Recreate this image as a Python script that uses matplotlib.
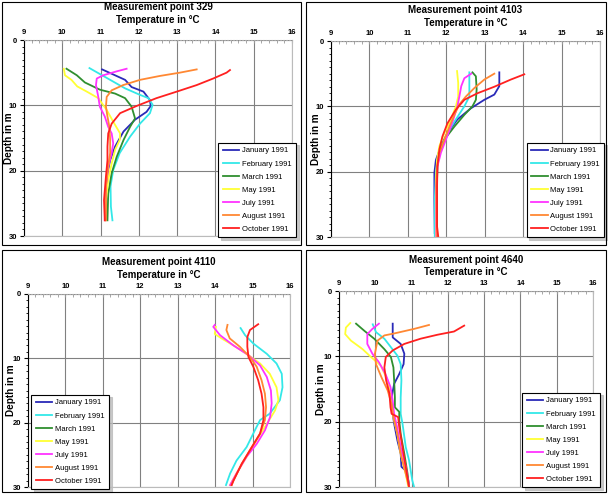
import matplotlib
matplotlib.use("Agg")
import matplotlib.pyplot as plt
from matplotlib.patches import Rectangle

plt.rcParams['font.family'] = ['Liberation Sans', 'DejaVu Sans']

months = ["January 1991", "February 1991", "March 1991", "May 1991",
          "July 1991", "August 1991", "October 1991"]
colors = ["#2a2ab8", "#33e8e8", "#2f8f2f", "#ffff33", "#ff33ff", "#ff8833", "#ff2020"]

# --- Measurement point 329 (temperature °C, depth m) ---
jan_329_t = [11.04, 11.64, 11.81, 12.12, 12.29, 12.31, 12.2, 11.9, 11.6, 11.38, 11.25, 11.18, 11.14, 11.14]
jan_329_d = [4.5, 6.1, 7.2, 7.9, 9.2, 10.1, 11.0, 12.2, 14.0, 16.3, 18.4, 20.4, 23.5, 27.5]
feb_329_t = [10.71, 11.25, 11.64, 12.03, 12.25, 12.36, 12.29, 12.03, 11.77, 11.5, 11.33, 11.26, 11.27, 11.31]
feb_329_d = [4.3, 6.1, 7.4, 8.4, 8.9, 9.9, 11.2, 12.8, 14.8, 17.3, 19.9, 22.4, 25.5, 27.6]
mar_329_t = [10.11, 10.38, 10.59, 10.98, 11.38, 11.64, 11.81, 11.9, 11.77, 11.6, 11.42, 11.29, 11.2, 11.18]
mar_329_d = [4.4, 5.4, 6.5, 7.6, 8.2, 8.9, 10.2, 12.0, 13.3, 15.3, 17.9, 20.4, 23.5, 27.6]
may_329_t = [10.04, 10.07, 10.24, 10.39, 10.64, 10.94, 11.16, 11.33, 11.51, 11.5, 11.38, 11.29, 11.2, 11.14, 11.12]
may_329_d = [4.4, 5.4, 6.1, 7.1, 7.9, 8.9, 10.7, 12.5, 14.3, 15.3, 16.8, 18.9, 21.4, 24.5, 27.6]
jul_329_t = [11.68, 11.42, 11.07, 10.9, 10.88, 10.94, 10.98, 11.11, 11.2, 11.29, 11.33, 11.29, 11.2, 11.14, 11.11]
jul_329_d = [4.4, 4.8, 5.4, 5.9, 6.9, 8.7, 10.2, 11.7, 13.3, 14.3, 15.8, 17.3, 19.4, 22.4, 27.6]
aug_329_t = [13.51, 13.07, 12.55, 12.03, 11.59, 11.29, 11.16, 11.14, 11.18, 11.23, 11.25, 11.25, 11.2, 11.14, 11.14]
aug_329_d = [4.5, 5.0, 5.5, 6.1, 6.9, 7.7, 8.7, 10.2, 11.7, 13.3, 15.3, 17.3, 19.4, 22.4, 27.6]
oct_329_t = [14.38, 14.29, 13.94, 13.51, 12.99, 12.46, 11.94, 11.51, 11.29, 11.2, 11.18, 11.18, 11.14, 11.09, 11.11]
oct_329_d = [4.6, 5.0, 5.9, 6.9, 7.9, 8.9, 10.1, 11.2, 12.8, 14.3, 16.3, 18.4, 20.9, 24.5, 27.6]

# --- Measurement point 4103 ---
jan_4103_t = [13.38, 13.38, 13.25, 12.99, 12.64, 12.29, 12.03, 11.86, 11.73, 11.69, 11.69, 11.69, 11.7]
jan_4103_d = [4.8, 6.9, 8.2, 9.0, 10.3, 12.0, 14.1, 16.1, 18.2, 20.2, 22.2, 24.3, 29.4]
feb_4103_t = [12.6, 12.6, 12.47, 12.25, 12.03, 11.86, 11.77, 11.73, 11.7, 11.7]
feb_4103_d = [4.8, 8.5, 10.0, 12.0, 14.1, 16.1, 18.2, 20.2, 24.3, 29.9]
mar_4103_t = [12.68, 12.77, 12.79, 12.77, 12.68, 12.47, 12.21, 11.95, 11.82, 11.77, 11.76, 11.76, 11.76]
mar_4103_d = [4.8, 5.4, 7.4, 9.0, 10.0, 11.3, 13.1, 15.1, 17.1, 19.2, 21.2, 24.3, 29.9]
may_4103_t = [12.28, 12.31, 12.31, 12.25, 12.12, 11.95, 11.82, 11.76, 11.73, 11.73, 11.73]
may_4103_d = [4.6, 6.4, 8.5, 10.0, 12.0, 14.1, 16.1, 18.2, 21.2, 24.3, 29.9]
jul_4103_t = [12.65, 12.47, 12.39, 12.34, 12.29, 12.21, 12.12, 11.99, 11.86, 11.77, 11.74, 11.74]
jul_4103_d = [5.0, 5.7, 6.9, 8.5, 10.0, 11.5, 13.1, 15.1, 17.1, 19.2, 22.2, 29.9]
aug_4103_t = [13.25, 12.99, 12.73, 12.51, 12.34, 12.21, 12.08, 11.95, 11.82, 11.76, 11.74, 11.76]
aug_4103_d = [5.0, 5.9, 7.2, 8.5, 9.7, 11.3, 13.1, 15.1, 17.1, 19.2, 22.2, 29.9]
oct_4103_t = [14.03, 13.68, 13.25, 12.81, 12.47, 12.25, 12.03, 11.9, 11.82, 11.77, 11.76, 11.76, 11.79]
oct_4103_d = [5.1, 5.9, 7.0, 8.0, 9.0, 10.5, 12.6, 14.6, 16.6, 19.2, 22.2, 28.4, 29.9]

# --- Measurement point 4110 (no January / March profiles) ---
jan_4110_t, jan_4110_d = [], []
feb_4110_t = [14.68, 14.8, 15.02, 15.38, 15.64, 15.78, 15.8, 15.73, 15.46, 15.2, 15.06, 14.84, 14.57, 14.4, 14.29]
feb_4110_d = [5.3, 6.4, 7.7, 9.3, 10.8, 12.4, 14.5, 16.5, 18.6, 19.6, 21.2, 23.8, 25.9, 27.9, 29.7]
mar_4110_t, mar_4110_d = [], []
may_4110_t = [14.02, 13.99, 14.17, 14.49, 14.84, 15.2, 15.46, 15.64, 15.69, 15.6, 15.38, 15.11, 14.84, 14.57, 14.4]
may_4110_d = [5.1, 6.2, 6.9, 8.0, 9.3, 10.8, 12.4, 14.5, 16.5, 18.1, 20.2, 22.7, 25.3, 27.9, 29.7]
jul_4110_t = [13.99, 13.95, 14.13, 14.49, 14.89, 15.2, 15.38, 15.49, 15.51, 15.47, 15.33, 15.11, 14.84, 14.57, 14.4]
jul_4110_d = [4.8, 5.1, 6.4, 8.0, 9.5, 11.1, 12.9, 15.0, 17.0, 19.1, 21.2, 23.3, 25.3, 27.9, 29.7]
aug_4110_t = [14.33, 14.3, 14.39, 14.66, 14.93, 15.11, 15.24, 15.33, 15.36, 15.33, 15.2, 14.98, 14.71, 14.49, 14.44]
aug_4110_d = [4.8, 5.6, 6.9, 8.2, 9.8, 11.3, 13.4, 15.5, 17.6, 19.6, 21.7, 23.8, 26.4, 29.0, 29.7]
oct_4110_t = [15.15, 14.93, 14.86, 14.86, 14.89, 15.02, 15.15, 15.24, 15.29, 15.29, 15.2, 14.98, 14.71, 14.49, 14.44]
oct_4110_d = [4.7, 5.6, 6.7, 8.2, 9.8, 11.3, 13.4, 15.5, 17.6, 19.6, 21.7, 23.8, 26.4, 29.0, 29.7]

# --- Measurement point 4640 ---
jan_4640_t = [10.48, 10.48, 10.7, 10.8, 10.78, 10.66, 10.52, 10.45, 10.46, 10.48, 10.52, 10.61, 10.7, 10.72, 10.84, 10.91, 10.93]
jan_4640_d = [5.0, 7.1, 8.1, 9.6, 11.2, 12.7, 14.2, 16.3, 18.3, 18.8, 20.3, 22.9, 24.9, 26.9, 27.5, 29.0, 30.0]
feb_4640_t = [9.93, 10.02, 10.25, 10.43, 10.61, 10.7, 10.72, 10.7, 10.7, 10.75, 10.84, 10.93, 11.02, 11.07]
feb_4640_d = [5.1, 6.3, 7.3, 8.6, 9.9, 11.2, 13.7, 16.3, 18.8, 20.3, 23.9, 25.9, 29.0, 30.0]
mar_4640_t = [9.47, 9.7, 9.97, 10.25, 10.43, 10.5, 10.52, 10.54, 10.54, 10.66, 10.66, 10.7, 10.8, 10.89, 10.93]
mar_4640_d = [5.0, 6.1, 7.3, 8.9, 10.1, 11.7, 13.7, 16.3, 17.8, 18.5, 19.8, 21.9, 24.9, 28.0, 30.0]
may_4640_t = [9.31, 9.19, 9.17, 9.33, 9.65, 9.88, 10.15, 10.34, 10.41, 10.45, 10.5, 10.61, 10.7, 10.84, 10.91]
may_4640_d = [4.9, 5.6, 6.6, 7.6, 8.9, 10.1, 11.4, 13.7, 15.7, 17.8, 19.3, 21.9, 24.9, 28.0, 30.0]
jul_4640_t = [10.1, 9.92, 9.78, 9.78, 9.92, 10.1, 10.28, 10.42, 10.48, 10.52, 10.6, 10.7, 10.84, 10.93]
jul_4640_d = [5.0, 5.8, 6.6, 8.1, 9.6, 10.9, 12.7, 14.7, 16.8, 18.8, 20.8, 23.9, 26.9, 30.0]
aug_4640_t = [11.48, 11.07, 10.52, 10.25, 10.06, 9.99, 10.02, 10.17, 10.34, 10.45, 10.5, 10.61, 10.7, 10.84, 10.93]
aug_4640_d = [5.2, 5.8, 6.5, 6.8, 7.6, 9.6, 11.2, 13.2, 15.2, 17.3, 19.3, 21.9, 24.9, 28.0, 30.0]
oct_4640_t = [12.45, 12.17, 11.71, 11.25, 10.8, 10.48, 10.29, 10.25, 10.3, 10.39, 10.42, 10.45, 10.63, 10.66, 10.75, 10.84, 10.93]
oct_4640_d = [5.3, 6.2, 6.7, 7.3, 8.1, 9.1, 10.1, 11.7, 13.7, 15.7, 17.8, 18.8, 19.3, 20.8, 23.9, 26.9, 30.0]

panels = [
    ("329", [(jan_329_t, jan_329_d), (feb_329_t, feb_329_d), (mar_329_t, mar_329_d), (may_329_t, may_329_d),
             (jul_329_t, jul_329_d), (aug_329_t, aug_329_d), (oct_329_t, oct_329_d)]),
    ("4103", [(jan_4103_t, jan_4103_d), (feb_4103_t, feb_4103_d), (mar_4103_t, mar_4103_d), (may_4103_t, may_4103_d),
              (jul_4103_t, jul_4103_d), (aug_4103_t, aug_4103_d), (oct_4103_t, oct_4103_d)]),
    ("4110", [(jan_4110_t, jan_4110_d), (feb_4110_t, feb_4110_d), (mar_4110_t, mar_4110_d), (may_4110_t, may_4110_d),
              (jul_4110_t, jul_4110_d), (aug_4110_t, aug_4110_d), (oct_4110_t, oct_4110_d)]),
    ("4640", [(jan_4640_t, jan_4640_d), (feb_4640_t, feb_4640_d), (mar_4640_t, mar_4640_d), (may_4640_t, may_4640_d),
              (jul_4640_t, jul_4640_d), (aug_4640_t, aug_4640_d), (oct_4640_t, oct_4640_d)]),
]

# layout in pixels of the 608x494 picture
W, H = 608, 494
ax_px = [(24, 40, 292, 236), (331, 41, 600, 237), (28, 294, 290, 487), (339, 291, 593, 487)]
box_px = [(2, 2, 301, 245), (306, 2, 606, 245), (2, 250, 301, 492), (306, 250, 606, 492)]
leg_px = [(221, 147, 293, 233), (530, 147, 601, 233), (34, 399, 106, 485), (525, 397, 597, 483)]
title_y = [(7, 20), (10, 23), (262, 275), (260, 272)]
ylab_x = [14, 321, 16, 326]

fig = plt.figure(figsize=(W / 100, H / 100), dpi=100)

for (x0, y0, x1, y1) in box_px:
    fig.patches.append(Rectangle((x0 / W, 1 - y1 / H), (x1 - x0) / W, (y1 - y0) / H,
                                 transform=fig.transFigure, fill=False, ec="black", lw=0.8))

for i, (name, series) in enumerate(panels):
    x0, y0, x1, y1 = ax_px[i]
    ax = fig.add_axes([x0 / W, 1 - y1 / H, (x1 - x0) / W, (y1 - y0) / H])
    for (t, d), lab, c in zip(series, months, colors):
        ax.plot(t, d, color=c, lw=1.3, label=lab)
    ax.set_xlim(9, 16)
    ax.set_ylim(30, 0)
    ax.set_xticks(range(9, 17))
    ax.set_yticks([0, 10, 20, 30])
    ax.set_xticks([9 + k * 0.2 for k in range(36)], minor=True)
    ax.set_yticks(range(0, 31), minor=True)
    ax.xaxis.tick_top()
    ax.tick_params(axis="x", which="both", direction="in", length=2, color="#999999", labelsize=5.5, pad=3)
    ax.tick_params(axis="y", which="major", direction="out", length=3, labelsize=5.5, pad=2)
    ax.tick_params(axis="y", which="minor", direction="out", length=1.5)
    for lb in ax.get_xticklabels() + ax.get_yticklabels():
        lb.set_fontweight("bold")
    ax.grid(True, which="major", color="#808080", lw=0.8)
    ax.spines["top"].set_color("#aaaaaa")
    ax.spines["top"].set_linestyle(":")
    ax.spines["right"].set_color("#bbbbbb")
    ax.spines["bottom"].set_color("#bbbbbb")

    ax.set_ylabel("Depth in m", fontsize=7.2, fontweight="bold")
    ax.yaxis.set_label_coords((ylab_x[i] - x0) / (x1 - x0), 0.5)

    cx = (x0 + x1) / 2 / W
    fig.text(cx, 1 - title_y[i][0] / H, "Measurement point " + name, ha="center", va="center",
             fontsize=7, fontweight="bold")
    fig.text(cx, 1 - title_y[i][1] / H, "Temperature in °C", ha="center", va="center",
             fontsize=7, fontweight="bold")

    lx0, ly0, lx1, ly1 = leg_px[i]
    bx = (lx0 - x0) / (x1 - x0)
    by = (y1 - ly1) / (y1 - y0)
    bw = (lx1 - lx0) / (x1 - x0)
    bh = (ly1 - ly0) / (y1 - y0)
    leg = ax.legend(loc="center", bbox_to_anchor=(bx, by, bw, bh), fontsize=5.5,
                    frameon=True, fancybox=False, shadow={"color": "#bbbbbb", "alpha": 0.8},
                    edgecolor="black", handlelength=2.2, handletextpad=0.3, labelspacing=0.75,
                    borderpad=0.6, borderaxespad=0)
    leg.get_frame().set_linewidth(0.8)

fig.savefig("out.png", dpi=100)
